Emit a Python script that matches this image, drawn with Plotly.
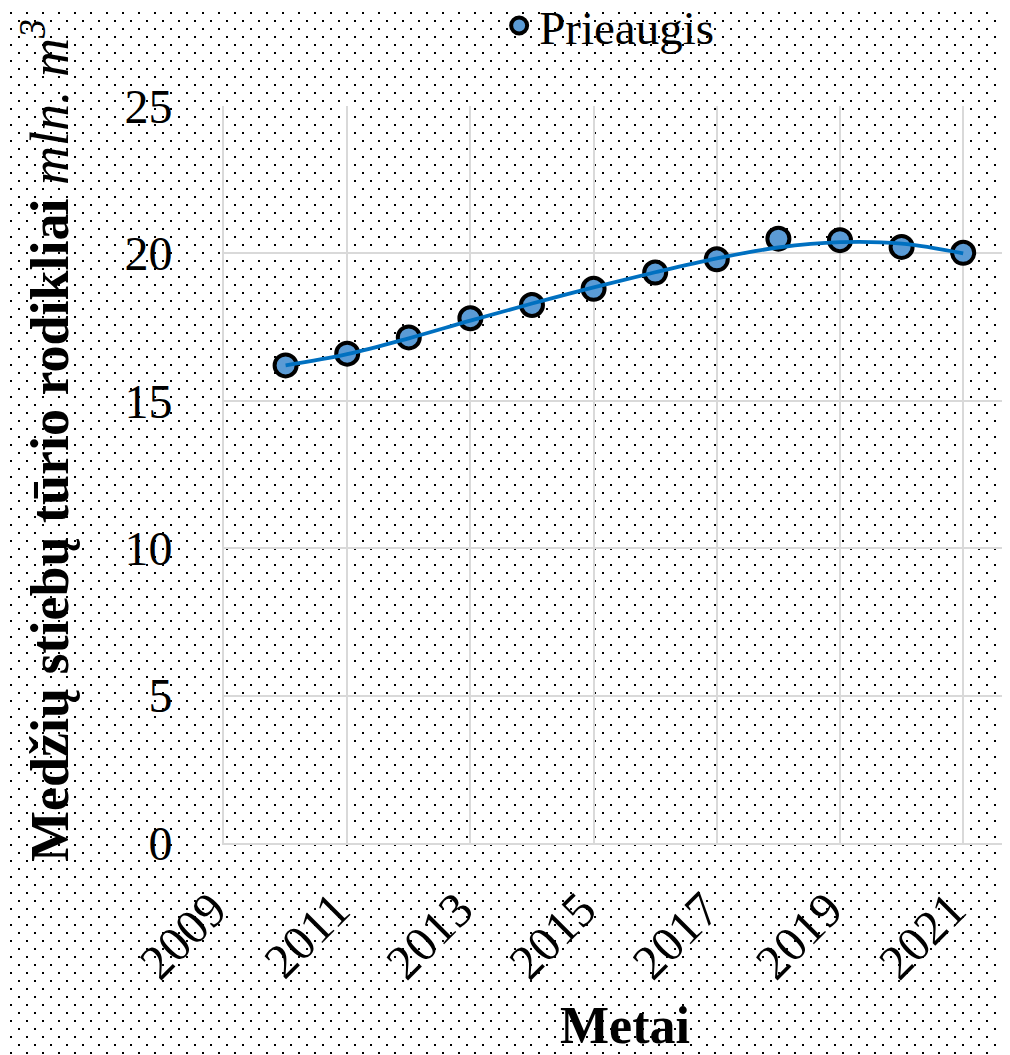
import base64
import plotly.graph_objects as go

# data
years = [2010, 2011, 2012, 2013, 2014, 2015, 2016, 2017, 2018, 2019, 2020, 2021]
prieaugis = [16.2, 16.6, 17.15, 17.8, 18.25, 18.8, 19.35, 19.8, 20.5, 20.45, 20.22, 20.02]
trend = [16.2, 16.58, 17.12, 17.72, 18.3, 18.85, 19.36, 19.83, 20.2, 20.38, 20.33, 20.0]
y_ticks = [0, 5, 10, 15, 20, 25]
x_ticks = [2009, 2011, 2013, 2015, 2017, 2019, 2021]

# page body has an 8px margin, so the figure is a bit smaller than the window
W, H = 1002, 1047
L, R, T, B = 216, 0, 98, 212
pw, ph = W - L - R, H - T - B

FONT = "Liberation Serif, Times New Roman, serif"

# dotted background pattern as an svg image covering the whole page
svg = (
    f'<svg xmlns="http://www.w3.org/2000/svg" width="{W}" height="{H}">'
    '<defs><pattern id="p" width="16" height="16" patternUnits="userSpaceOnUse">'
    '<rect x="10" y="12" width="2" height="2" fill="#000"/>'
    '<rect x="2" y="4" width="2" height="2" fill="#000"/>'
    '</pattern></defs>'
    f'<rect width="{W}" height="{H}" fill="url(#p)"/></svg>'
)
bg_src = "data:image/svg+xml;base64," + base64.b64encode(svg.encode()).decode()

fig = go.Figure()

fig.add_trace(go.Scatter(
    x=years, y=prieaugis, mode="markers", name="Prieaugis",
    marker=dict(size=22, color="#5B9BD5", line=dict(color="black", width=4)),
))
fig.add_trace(go.Scatter(
    x=years, y=trend, mode="lines", line_shape="spline", showlegend=False,
    line=dict(color="#0070C0", width=3.8), hoverinfo="skip",
))

fig.add_layout_image(dict(
    source=bg_src, xref="paper", yref="paper",
    x=-L / pw, y=1 + T / ph, sizex=W / pw, sizey=H / ph,
    xanchor="left", yanchor="top", sizing="stretch", layer="below",
))

fig.add_annotation(
    text="<b>Medžių stiebų tūrio rodikliai </b><i>mln. m<sup>3</sup></i>",
    xref="paper", yref="paper", x=(37 - L) / pw, y=1 - (433 - T) / ph,
    textangle=-90, showarrow=False, font=dict(family=FONT, size=54, color="black"),
    xanchor="center", yanchor="middle",
)
fig.add_annotation(
    text="<b>Metai</b>", xref="paper", yref="paper",
    x=(617 - L) / pw, y=-(1017 - (H - B)) / ph, showarrow=False,
    font=dict(family=FONT, size=52, color="black"), xanchor="center", yanchor="middle",
)

fig.update_layout(
    width=W, height=H,
    margin=dict(l=L, r=R, t=T, b=B, autoexpand=False),
    paper_bgcolor="white", plot_bgcolor="rgba(0,0,0,0)",
    font=dict(family=FONT, color="black", size=46),
    showlegend=True,
    legend=dict(
        orientation="h", x=0.49, xanchor="center", y=1 + (T - 18) / ph, yanchor="middle",
        font=dict(family=FONT, size=47), bgcolor="rgba(0,0,0,0)", itemwidth=30,
    ),
)
fig.update_xaxes(
    range=[2009, 2021.76], tickvals=x_ticks, ticktext=[str(v) for v in x_ticks],
    tickangle=-45, tickfont=dict(size=49), automargin=False,
    ticklabelstandoff=16, ticklabelshift=-12,
    showgrid=True, gridcolor="#D9D9D9", gridwidth=2,
    showline=True, linecolor="#D9D9D9", linewidth=2, zeroline=False, ticks="",
)
fig.update_yaxes(
    range=[0, 25], tickvals=y_ticks, tickfont=dict(size=48), automargin=False,
    showgrid=True, gridcolor="#D9D9D9", gridwidth=2,
    showline=True, linecolor="#D9D9D9", linewidth=2, zeroline=False, ticks="",
    ticklabelstandoff=40,
)

fig.write_html("out.html")
